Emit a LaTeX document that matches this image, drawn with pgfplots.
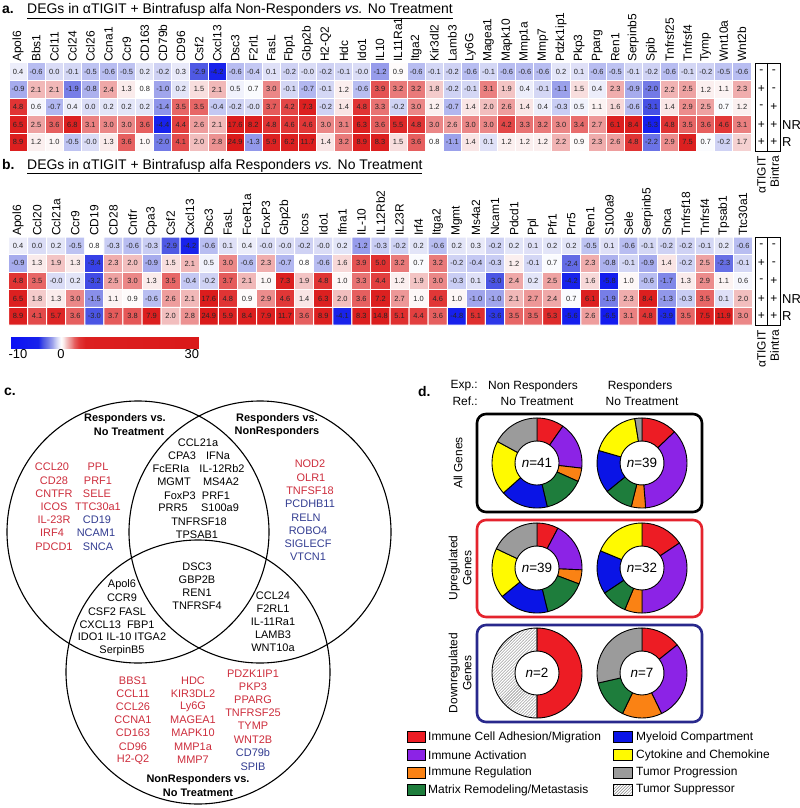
\documentclass[border=0pt]{standalone}
\usepackage{fontspec}
\setmainfont{Liberation Sans}
\usepackage{pgfplots}
\usepackage{pgfplotstable}
\pgfplotsset{compat=1.18}
\usetikzlibrary{patterns,calc}

\definecolor{cRed}{RGB}{237,28,36}
\definecolor{cPur}{RGB}{140,35,230}
\definecolor{cOra}{RGB}{250,130,20}
\definecolor{cGre}{RGB}{30,125,60}
\definecolor{cBlu}{RGB}{10,20,230}
\definecolor{cYel}{RGB}{255,250,0}
\definecolor{cGra}{RGB}{155,155,155}
\definecolor{vred}{RGB}{205,45,60}
\definecolor{vblue}{RGB}{50,60,145}
\definecolor{boxred}{RGB}{228,35,45}
\definecolor{boxblue}{RGB}{40,40,140}

\newcommand\ttl{\fontsize{14}{16}\selectfont}
\newcommand\vfont{\fontsize{11}{13}\selectfont}
\newcommand\dfont{\fontsize{12}{14}\selectfont}
\newcommand\vt[4]{\node[text=#3, font=\vfont, inner sep=0pt] at (#1,#2) {#4};}
\newcommand\vb[3]{\node[font=\vfont\bfseries, inner sep=0pt] at (#1,#2) {#3};}

\pgfplotsset{
  colormap={hm}{rgb255(0cm)=(10,15,245); rgb255(6cm)=(25,35,235); rgb255(7cm)=(75,85,228); rgb255(8cm)=(115,122,230); rgb255(9cm)=(160,165,236); rgb255(9.5cm)=(190,195,242); rgb255(10cm)=(218,220,246); rgb255(10.8cm)=(255,255,255); rgb255(11.3cm)=(250,235,235); rgb255(12cm)=(242,190,190); rgb255(13cm)=(235,135,135); rgb255(13.6cm)=(230,95,95); rgb255(14.6cm)=(225,55,55); rgb255(16cm)=(220,32,32); rgb255(40cm)=(218,25,25)},
  hm/.style={scale only axis, height=88bp, ymin=-0.5, ymax=4.5,
    xmin=-0.5, xmax=#1+0.5, ytick=\empty, xtick={0,...,#1}, xticklabel pos=right,
    xticklabel style={rotate=90, anchor=west, font=\fontsize{12}{14}\selectfont, inner sep=1bp},
    major tick length=0pt, axis line style={draw=none}, colormap name=hm,
    point meta min=-10, point meta max=30, clip=false},
  cellnum/.style={only marks, mark=none, point meta=explicit symbolic,
    nodes near coords, nodes near coords align=center,
    every node near coord/.append style={font=\fontsize{7.5}{8}\selectfont, text=black!85, inner sep=0pt, anchor=center}}
}

\newcommand\seg[6]{\path[shift={(axis cs:#1,-#2)}, #6, draw=black, line width=0.9bp, line join=round]
  ({90-360*#3/#5}:45bp) arc[start angle={90-360*#3/#5}, end angle={90-360*#4/#5}, radius=45bp]
  -- ({90-360*#4/#5}:22bp) arc[start angle={90-360*#4/#5}, end angle={90-360*#3/#5}, radius=22bp] -- cycle;}

\newcommand\pmtab[1]{%
  \draw[line width=0.8bp] (755,#1) rectangle (780,#1+88);
  \draw[line width=0.8bp] (767.5,#1) -- (767.5,#1+88);
  \node[font=\dfont] at (761.25,#1+8.8) {-};   \node[font=\dfont] at (773.75,#1+8.8) {-};
  \node[font=\dfont] at (761.25,#1+26.4) {+};  \node[font=\dfont] at (773.75,#1+26.4) {-};
  \node[font=\dfont] at (761.25,#1+44) {-};    \node[font=\dfont] at (773.75,#1+44) {+};
  \node[font=\dfont] at (761.25,#1+61.6) {+};  \node[font=\dfont] at (773.75,#1+61.6) {+};
  \node[font=\dfont] at (761.25,#1+79.2) {+};  \node[font=\dfont] at (773.75,#1+79.2) {+};
  \node[font=\fontsize{13}{15}\selectfont, anchor=west, inner sep=0] at (782,#1+61.6) {NR};
  \node[font=\fontsize{13}{15}\selectfont, anchor=west, inner sep=0] at (782,#1+79.2) {R};
  \node[rotate=90, anchor=east, font=\dfont, inner sep=0] at (761.5,#1+93) {αTIGIT};
  \node[rotate=90, anchor=east, font=\dfont, inner sep=0] at (774.5,#1+93) {Bintra};
}

\begin{document}
\pgfplotstableread[row sep=\\]{c\\
0.4\\-0.6\\0.0\\-0.1\\-0.5\\-0.6\\-0.5\\0.2\\-0.2\\0.3\\-2.9\\-4.2\\-0.6\\-0.4\\0.1\\-0.2\\-0.0\\-0.2\\-0.1\\-0.0\\-1.2\\0.9\\-0.6\\-0.1\\-0.2\\-0.6\\-0.1\\-0.6\\-0.6\\-0.6\\0.2\\0.1\\-0.6\\-0.5\\-0.1\\-0.2\\-0.6\\-0.1\\-0.2\\-0.5\\-0.6\\
-0.9\\2.1\\2.1\\-1.9\\-0.8\\2.4\\1.3\\0.8\\-1.0\\0.2\\1.5\\2.1\\0.5\\0.7\\3.0\\-0.1\\-0.7\\-0.1\\1.2\\-0.6\\3.9\\3.2\\3.2\\1.8\\-0.2\\-0.1\\3.1\\1.9\\0.4\\-0.1\\-1.1\\1.5\\0.4\\2.3\\-0.9\\-2.0\\2.2\\2.5\\1.2\\1.1\\2.3\\
4.8\\0.6\\-0.7\\0.4\\0.0\\0.2\\0.2\\0.2\\-1.4\\3.5\\3.5\\-0.4\\-0.2\\-0.0\\3.7\\4.2\\7.3\\-0.2\\1.4\\4.8\\3.3\\-0.2\\3.0\\1.2\\-0.7\\1.4\\2.0\\2.6\\1.4\\0.4\\-0.3\\0.5\\1.1\\1.6\\-0.6\\-3.1\\1.4\\2.9\\2.5\\0.7\\1.2\\
6.5\\2.5\\3.6\\6.8\\3.1\\3.0\\3.0\\3.6\\-4.4\\4.4\\2.6\\2.1\\17.6\\8.2\\4.8\\4.6\\4.6\\3.0\\3.1\\6.3\\3.6\\5.5\\4.8\\3.0\\2.6\\3.0\\3.0\\4.2\\3.3\\3.2\\3.0\\3.4\\2.7\\6.1\\8.4\\-5.3\\4.8\\3.5\\3.6\\4.6\\3.1\\
8.9\\1.2\\1.0\\-0.5\\-0.0\\1.3\\3.6\\1.0\\-2.0\\4.1\\2.0\\2.8\\24.9\\-1.3\\5.9\\6.2\\11.7\\1.4\\3.2\\8.9\\8.3\\1.5\\3.6\\0.8\\-1.1\\1.4\\0.1\\1.2\\1.2\\1.2\\2.2\\0.9\\2.3\\2.6\\4.8\\-2.2\\2.9\\7.5\\0.7\\-0.2\\1.7\\
}\tabA
\pgfplotstableread[row sep=\\]{c\\
0.4\\0.0\\0.2\\-0.5\\0.8\\-0.3\\-0.6\\-0.3\\-2.9\\-4.2\\-0.6\\0.1\\0.4\\-0.0\\-0.0\\-0.2\\-0.0\\0.2\\-1.2\\-0.3\\-0.2\\0.2\\-0.6\\0.2\\0.3\\-0.2\\0.2\\0.1\\0.2\\0.2\\-0.5\\0.1\\-0.6\\-0.1\\-0.2\\-0.2\\-0.1\\0.2\\-0.6\\
-0.9\\1.3\\1.9\\1.3\\-3.4\\2.3\\2.0\\-0.9\\1.5\\2.1\\0.5\\3.0\\-0.6\\2.3\\-0.7\\0.8\\-0.6\\1.6\\3.9\\5.0\\3.2\\0.7\\3.2\\-0.2\\-0.4\\-0.3\\1.2\\-0.1\\0.7\\-2.4\\2.3\\-0.8\\-0.1\\-0.9\\1.4\\-0.2\\2.5\\-2.3\\-0.1\\
4.8\\3.5\\-0.0\\0.2\\-3.2\\2.5\\3.0\\1.3\\3.5\\-0.4\\-0.2\\3.7\\2.1\\1.0\\7.3\\1.9\\4.8\\1.0\\3.3\\4.4\\1.2\\1.9\\3.0\\-0.3\\0.1\\-3.0\\2.4\\0.2\\2.5\\-4.2\\1.6\\-5.8\\1.0\\-0.6\\-1.7\\1.3\\2.9\\1.1\\0.6\\
6.5\\1.8\\1.3\\3.0\\-1.5\\1.1\\0.9\\-0.6\\2.6\\2.1\\17.6\\4.8\\0.9\\2.9\\4.6\\1.4\\6.3\\2.0\\3.6\\7.2\\2.7\\1.0\\4.6\\1.0\\-1.0\\-1.0\\2.1\\2.7\\2.4\\0.7\\6.1\\-1.9\\2.3\\8.4\\-1.3\\-0.3\\3.5\\0.1\\2.0\\
8.9\\4.1\\5.7\\3.6\\-3.0\\3.7\\3.8\\7.9\\2.0\\2.8\\24.9\\5.9\\8.4\\7.9\\11.7\\3.6\\8.9\\-4.1\\8.3\\14.8\\5.1\\4.4\\3.6\\-4.8\\5.1\\-3.6\\3.5\\3.5\\5.3\\-5.6\\2.6\\-6.5\\3.1\\4.8\\-3.9\\3.5\\7.5\\11.9\\3.0\\
}\tabB
\begin{tikzpicture}[x=1bp,y=-1bp]
\useasboundingbox (0,0) rectangle (800,808);

% ---------- panel a ----------
\node[anchor=base west, font=\ttl\bfseries, inner sep=0] at (2,14) {a.};
\node[anchor=base west, font=\ttl, inner sep=0] at (27,14) {\underline{DEGs in αTIGIT + Bintrafusp alfa Non-Responders \textit{vs.} No Treatment}};
\begin{axis}[hm=40, at={(9bp,-151bp)}, anchor=south west, width=742bp,
  xticklabels={Apol6,Bbs1,Ccl11,Ccl24,Ccl26,Ccna1,Ccr9,CD163,CD79b,CD96,Csf2,Cxcl13,Dsc3,F2rl1,FasL,Fbp1,Gbp2b,H2-Q2,Hdc,Ido1,IL10,IL11Ra1,Itga2,Kir3dl2,Lamb3,Ly6G,Magea1,Mapk10,Mmp1a,Mmp7,Pdzk1ip1,Pkp3,Pparg,Ren1,Serpinb5,Spib,Tnfrsf25,Tnfrsf4,Tymp,Wnt10a,Wnt2b}]
\addplot[matrix plot*, mesh/cols=41, point meta=\thisrow{c}, draw=white, line width=1bp]
  table[x index=0, y index=0, x expr={mod(\coordindex,41)}, y expr={4-int((\coordindex+0.5)/41)}]{\tabA};
\addplot[cellnum] table[meta=c, x index=0, y index=0, x expr={mod(\coordindex,41)}, y expr={4-int((\coordindex+0.5)/41)}]{\tabA};
\end{axis}
\pmtab{63}

% ---------- panel b ----------
\node[anchor=base west, font=\ttl\bfseries, inner sep=0] at (2,169) {b.};
\node[anchor=base west, font=\ttl, inner sep=0] at (27,169) {\underline{DEGs in αTIGIT + Bintrafusp alfa Responders \textit{vs.} No Treatment}};
\begin{axis}[hm=38, at={(8.5bp,-325bp)}, anchor=south west, width=744bp,
  xticklabels={Apol6,Ccl20,Ccl21a,Ccr9,CD19,CD28,Cntfr,Cpa3,Csf2,Cxcl13,Dsc3,FasL,FceR1a,FoxP3,Gbp2b,Icos,Ido1,Ifna1,IL-10,IL12Rb2,IL23R,Irf4,Itga2,Mgmt,Ms4a2,Ncam1,Pdcd1,Ppl,Pfr1,Prr5,Ren1,S100a9,Sele,Serpinb5,Snca,Tnfrsf18,Tnfrsf4,Tpsab1,Ttc30a1},
  colorbar horizontal,
  colorbar style={at={(parent axis.south west)}, anchor=north west, xshift=1.5bp, yshift=-4bp,
    scale only axis, width=189bp, height=11bp,
    xtick={-8.3,0.8,28.5}, xticklabels={-10,0,30}, xticklabel pos=left, ytick=\empty,
    xticklabel style={rotate=0, anchor=north, font=\fontsize{13}{15}\selectfont, inner sep=1bp},
    major tick length=0pt, axis line style={draw=none}}]
\addplot[matrix plot*, mesh/cols=39, point meta=\thisrow{c}, draw=white, line width=1bp]
  table[x index=0, y index=0, x expr={mod(\coordindex,39)}, y expr={4-int((\coordindex+0.5)/39)}]{\tabB};
\addplot[cellnum] table[meta=c, x index=0, y index=0, x expr={mod(\coordindex,39)}, y expr={4-int((\coordindex+0.5)/39)}]{\tabB};
\end{axis}
\pmtab{237}

% ---------- panel c ----------
\node[anchor=base west, font=\ttl\bfseries, inner sep=0] at (4,395) {c.};
\draw[line width=1.1bp] (138,532) circle[radius=131bp];
\draw[line width=1.1bp] (260,532) circle[radius=131bp];
\draw[line width=1.1bp] (198,672) circle[radius=132bp];
\vb{125}{419}{Responders vs.}
\vb{129}{432}{No Treatment}
\vb{277}{419}{Responders vs.}
\vb{277}{432}{NonResponders}
\vb{198}{780}{NonResponders vs.}
\vb{198}{793}{No Treatment}
\vt{52}{467}{vred}{CCL20} \vt{54}{481}{vred}{CD28} \vt{54}{494}{vred}{CNTFR} \vt{54}{507}{vred}{ICOS}
\vt{54}{520}{vred}{IL-23R} \vt{52}{533}{vred}{IRF4} \vt{54}{547}{vred}{PDCD1}
\vt{98}{467}{vred}{PPL} \vt{98}{481}{vred}{PRF1} \vt{97}{494}{vred}{SELE} \vt{98}{507}{vred}{TTC30a1}
\vt{97}{520}{vblue}{CD19} \vt{96}{533}{vblue}{NCAM1} \vt{98}{547}{vblue}{SNCA}
\vt{198}{443}{black}{CCL21a}
\vt{182}{456}{black}{CPA3} \vt{218}{456}{black}{IFNa}
\vt{171}{469}{black}{FcERIa} \vt{222}{469}{black}{IL-12Rb2}
\vt{174}{482}{black}{MGMT} \vt{221}{482}{black}{MS4A2}
\vt{180}{496}{black}{FoxP3} \vt{216}{496}{black}{PRF1}
\vt{173}{508}{black}{PRR5} \vt{220}{508}{black}{S100a9}
\vt{199}{522}{black}{TNFRSF18} \vt{197}{535}{black}{TPSAB1}
\vt{310}{464}{vred}{NOD2} \vt{311}{478}{vred}{OLR1} \vt{310}{491}{vred}{TNFSF18}
\vt{310}{504}{vblue}{PCDHB11} \vt{306}{518}{vblue}{RELN} \vt{308}{531}{vblue}{ROBO4}
\vt{308}{544}{vblue}{SIGLECF} \vt{308}{557}{vblue}{VTCN1}
\vt{197}{567}{black}{DSC3} \vt{197}{580}{black}{GBP2B} \vt{197}{593}{black}{REN1} \vt{197}{606}{black}{TNFRSF4}
\vt{122}{585}{black}{Apol6} \vt{122}{598}{black}{CCR9} \vt{117}{612}{black}{CSF2 FASL}
\vt{117}{625}{black}{CXCL13\ \ FBP1} \vt{122}{637}{black}{IDO1 IL-10 ITGA2} \vt{122}{651}{black}{SerpinB5}
\vt{273}{596}{black}{CCL24} \vt{273}{609}{black}{F2RL1} \vt{273}{622}{black}{IL-11Ra1}
\vt{273}{635}{black}{LAMB3} \vt{273}{648}{black}{WNT10a}
\vt{133}{681}{vred}{BBS1} \vt{133}{694}{vred}{CCL11} \vt{133}{707}{vred}{CCL26} \vt{133}{720}{vred}{CCNA1}
\vt{133}{733}{vred}{CD163} \vt{133}{747}{vred}{CD96} \vt{133}{760}{vred}{H2-Q2}
\vt{193}{681}{vred}{HDC} \vt{193}{694}{vred}{KIR3DL2} \vt{193}{707}{vred}{Ly6G} \vt{193}{720}{vred}{MAGEA1}
\vt{193}{733}{vred}{MAPK10} \vt{193}{747}{vred}{MMP1a} \vt{193}{760}{vred}{MMP7}
\vt{253}{674}{vred}{PDZK1IP1} \vt{253}{687}{vred}{PKP3} \vt{253}{700}{vred}{PPARG} \vt{253}{713}{vred}{TNFRSF25}
\vt{253}{726}{vred}{TYMP} \vt{253}{740}{vred}{WNT2B} \vt{253}{753}{vblue}{CD79b} \vt{253}{767}{vblue}{SPIB}

% ---------- panel d ----------
\node[anchor=base west, font=\ttl\bfseries, inner sep=0] at (418,396) {d.};
\node[anchor=east, font=\dfont, inner sep=0] at (478,386) {Exp.:};
\node[anchor=east, font=\dfont, inner sep=0] at (478,401) {Ref.:};
\node[font=\dfont, inner sep=0] at (533,386) {Non Responders};
\node[font=\dfont, inner sep=0] at (537,401) {No Treatment};
\node[font=\dfont, inner sep=0] at (640,386) {Responders};
\node[font=\dfont, inner sep=0] at (642,401) {No Treatment};
\draw[line width=2.6bp, rounded corners=9bp, black] (477,414) rectangle (702,512);
\draw[line width=2.6bp, rounded corners=9bp, boxred] (477,520) rectangle (702,617);
\draw[line width=2.6bp, rounded corners=9bp, boxblue] (477,625) rectangle (702,722);
\node[rotate=90, font=\dfont, inner sep=0] at (458,463) {All Genes};
\node[rotate=90, font=\dfont, inner sep=0, align=center] at (460,568) {Upregulated\\Genes};
\node[rotate=90, font=\dfont, inner sep=0, align=center] at (460,673) {Downregulated\\Genes};

\begin{axis}[at={(0bp,-808bp)}, anchor=south west, scale only axis, x=1bp, y=1bp,
  xmin=0, xmax=800, ymin=-808, ymax=0, hide axis, clip=false]
\seg{537}{463}{0}{4}{41}{fill=cRed}
\seg{537}{463}{4}{11}{41}{fill=cPur}
\seg{537}{463}{11}{13}{41}{fill=cOra}
\seg{537}{463}{13}{19}{41}{fill=cGre}
\seg{537}{463}{19}{26}{41}{fill=cBlu}
\seg{537}{463}{26}{34}{41}{fill=cYel}
\seg{537}{463}{34}{41}{41}{fill=cGra}
\seg{642}{463}{0}{5}{39}{fill=cRed}
\seg{642}{463}{5}{19}{39}{fill=cPur}
\seg{642}{463}{19}{21}{39}{fill=cOra}
\seg{642}{463}{21}{25}{39}{fill=cGre}
\seg{642}{463}{25}{31}{39}{fill=cBlu}
\seg{642}{463}{31}{38}{39}{fill=cYel}
\seg{642}{463}{38}{39}{39}{fill=cGra}
\seg{537}{568}{0}{3}{39}{fill=cRed}
\seg{537}{568}{3}{10}{39}{fill=cPur}
\seg{537}{568}{10}{12}{39}{fill=cOra}
\seg{537}{568}{12}{18}{39}{fill=cGre}
\seg{537}{568}{18}{25}{39}{fill=cBlu}
\seg{537}{568}{25}{32}{39}{fill=cYel}
\seg{537}{568}{32}{39}{39}{fill=cGra}
\seg{642}{568}{0}{5}{32}{fill=cRed}
\seg{642}{568}{5}{16}{32}{fill=cPur}
\seg{642}{568}{16}{18}{32}{fill=cOra}
\seg{642}{568}{18}{21}{32}{fill=cGre}
\seg{642}{568}{21}{26}{32}{fill=cBlu}
\seg{642}{568}{26}{32}{32}{fill=cYel}
\seg{537}{673}{0}{1}{2}{fill=cRed}
\seg{537}{673}{1}{2}{2}{pattern=north east lines, pattern color=gray}
\seg{642}{673}{0}{1}{7}{fill=cRed}
\seg{642}{673}{1}{3}{7}{fill=cPur}
\seg{642}{673}{3}{4}{7}{fill=cOra}
\seg{642}{673}{4}{5}{7}{fill=cGre}
\seg{642}{673}{5}{7}{7}{fill=cGra}
\end{axis}
\node[font=\fontsize{13.5}{15}\selectfont] at (537,463) {\textit{n}=41};
\node[font=\fontsize{13.5}{15}\selectfont] at (642,463) {\textit{n}=39};
\node[font=\fontsize{13.5}{15}\selectfont] at (537,568) {\textit{n}=39};
\node[font=\fontsize{13.5}{15}\selectfont] at (642,568) {\textit{n}=32};
\node[font=\fontsize{13.5}{15}\selectfont] at (537,673) {\textit{n}=2};
\node[font=\fontsize{13.5}{15}\selectfont] at (642,673) {\textit{n}=7};

\draw[fill=cRed, line width=0.8bp] (407,731.5) rectangle (425,742.5);
\node[anchor=west, font=\dfont, inner sep=0] at (428,737) {Immune Cell Adhesion/Migration};
\draw[fill=cPur, line width=0.8bp] (407,749.5) rectangle (425,760.5);
\node[anchor=west, font=\dfont, inner sep=0] at (428,755) {Immune Activation};
\draw[fill=cOra, line width=0.8bp] (407,767) rectangle (425,778);
\node[anchor=west, font=\dfont, inner sep=0] at (428,772.5) {Immune Regulation};
\draw[fill=cGre, line width=0.8bp] (407,784.5) rectangle (425,795.5);
\node[anchor=west, font=\dfont, inner sep=0] at (428,790) {Matrix Remodeling/Metastasis};
\draw[fill=cBlu, line width=0.8bp] (613,731.5) rectangle (632,742.5);
\node[anchor=west, font=\dfont, inner sep=0] at (636,737) {Myeloid Compartment};
\draw[fill=cYel, line width=0.8bp] (613,749.5) rectangle (632,760.5);
\node[anchor=west, font=\dfont, inner sep=0] at (636,755) {Cytokine and Chemokine};
\draw[fill=cGra, line width=0.8bp] (613,767) rectangle (632,778);
\node[anchor=west, font=\dfont, inner sep=0] at (636,772.5) {Tumor Progression};
\draw[pattern=north east lines, pattern color=gray, line width=0.8bp] (613,784.5) rectangle (632,795.5);
\node[anchor=west, font=\dfont, inner sep=0] at (636,790) {Tumor Suppressor};
\end{tikzpicture}
\end{document}
